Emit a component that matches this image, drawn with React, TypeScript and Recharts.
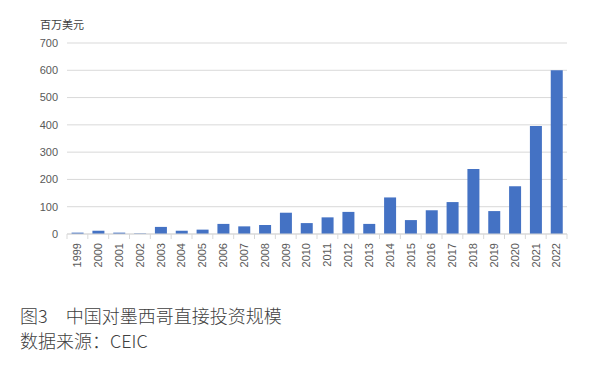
import { Bar, BarChart, CartesianGrid, XAxis, YAxis } from "recharts";

const years = [
  "1999", "2000", "2001", "2002", "2003", "2004", "2005", "2006", "2007", "2008", "2009", "2010",
  "2011", "2012", "2013", "2014", "2015", "2016", "2017", "2018", "2019", "2020", "2021", "2022",
];
const investment = [5, 12, 5, 2, 26, 12, 16, 37, 28, 33, 78, 40, 61, 81, 37, 134, 51, 87, 117, 238, 84, 175, 396, 600];
const yTicks = [0, 100, 200, 300, 400, 500, 600, 700];

const data = years.map((year, i) => ({ year, value: investment[i] }));

const plotWidth = 500;
const band = plotWidth / years.length;

function YearTick({ x, y, payload }: any) {
  return (
    <g>
      <line x1={x - band / 2} x2={x - band / 2} y1={y - 8} y2={y - 3} stroke="#d9d9d9" />
      {payload.index === years.length - 1 && (
        <line x1={x + band / 2} x2={x + band / 2} y1={y - 8} y2={y - 3} stroke="#d9d9d9" />
      )}
      <text
        transform={`translate(${x},${y + 1}) rotate(-90)`}
        textAnchor="end"
        dy="0.35em"
        fontSize={11}
        fill="#595959"
        fontFamily="'Liberation Sans', Arial, sans-serif"
      >
        {payload.value}
      </text>
    </g>
  );
}

export default function App() {
  return (
    <div style={{ position: "absolute", left: 0, top: 0, width: 596, height: 366, background: "#fff" }}>
      <div
        style={{
          position: "absolute",
          left: 40,
          top: 16,
          fontSize: 11,
          color: "#404040",
          fontFamily: "'Noto Sans CJK SC', sans-serif",
        }}
      >
        百万美元
      </div>
      <BarChart
        width={596}
        height={280}
        data={data}
        margin={{ top: 43, right: 29, left: 0, bottom: 0 }}
        barCategoryGap="22%"
      >
        <CartesianGrid vertical={false} stroke="#d9d9d9" />
        <XAxis
          dataKey="year"
          interval={0}
          height={46}
          tickLine={false}
          axisLine={{ stroke: "#d9d9d9" }}
          tick={<YearTick />}
        />
        <YAxis
          width={67}
          domain={[0, 700]}
          ticks={yTicks}
          axisLine={false}
          tickLine={false}
          tickSize={0}
          tickMargin={9}
          tick={{ fontSize: 11, fill: "#595959", fontFamily: "'Liberation Sans', Arial, sans-serif" }}
        />
        <Bar dataKey="value" fill="#4472c4" isAnimationActive={false} />
      </BarChart>
      <div
        style={{
          position: "absolute",
          left: 20,
          top: 303,
          fontSize: 18,
          lineHeight: "25px",
          color: "#404040",
          fontFamily: "'Noto Sans CJK SC', sans-serif",
          fontWeight: 300,
        }}
      >
        <div>图3　中国对墨西哥直接投资规模</div>
        <div>数据来源：CEIC</div>
      </div>
    </div>
  );
}
